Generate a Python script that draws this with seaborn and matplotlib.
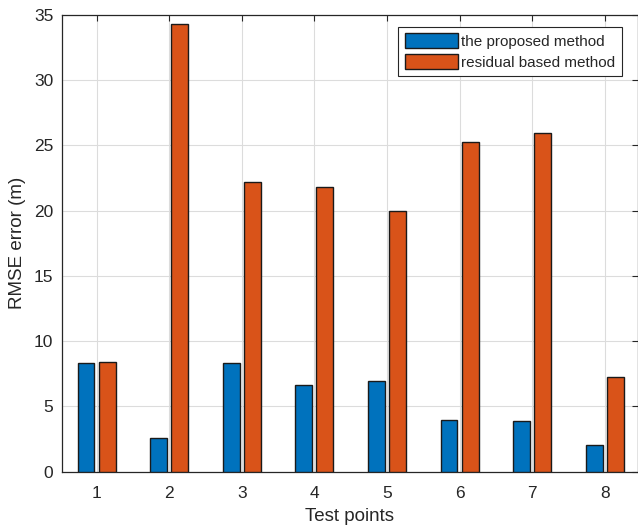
import numpy as np
import pandas as pd
import seaborn as sns
import matplotlib.pyplot as plt

# values
test_points = ['1', '2', '3', '4', '5', '6', '7', '8']
proposed = [8.32, 2.58, 8.3, 6.66, 6.91, 3.93, 3.85, 2.04]
residual = [8.4, 34.3, 22.2, 21.8, 19.93, 25.27, 25.93, 7.25]
methods = ['the proposed method', 'residual based method']
colors = ['#0072BD', '#D95319']

df = pd.DataFrame({
    'point': test_points * 2,
    'rmse': proposed + residual,
    'method': [methods[0]] * len(proposed) + [methods[1]] * len(residual),
})

sns.set_style('white')
plt.rcParams['font.family'] = ['Liberation Sans', 'DejaVu Sans']

fig = plt.figure(figsize=(6.38, 5.28), dpi=100)
ax = fig.add_axes([61.7 / 638, 1 - 471.7 / 528, (637.5 - 61.7) / 638, (471.7 - 14.7) / 528])

sns.barplot(data=df, x='point', y='rmse', hue='method', palette=colors,
            width=0.58, gap=0.2, edgecolor='#1a1a1a', linewidth=1.0,
            saturation=1, ax=ax, zorder=3)

ax.set_xlim(-0.48, 7.45)
ax.set_ylim(0, 35)
ax.set_yticks(np.arange(0, 36, 5))
ax.grid(True, color='#dcdcdc', linewidth=0.8)
ax.set_axisbelow(True)

for s in ax.spines.values():
    s.set_color('#262626')
    s.set_linewidth(0.9)
ax.tick_params(direction='in', length=4, width=0.8, colors='#262626',
               top=True, right=True, labelsize=12.5)
ax.tick_params(axis='x', pad=10)
ax.tick_params(axis='y', pad=6)
for lab in ax.get_xticklabels() + ax.get_yticklabels():
    lab.set_color('#262626')

ax.set_xlabel('Test points', fontsize=13.5, color='#262626', labelpad=5)
ax.set_ylabel('RMSE error (m)', fontsize=13.5, color='#262626', labelpad=6)

ax.legend(loc='upper right', bbox_to_anchor=(0.973, 0.973), fontsize=11,
          frameon=True, fancybox=False, edgecolor='#262626', framealpha=1,
          handlelength=3.45, handleheight=1.1, handletextpad=0.25,
          labelspacing=0.33, borderpad=0.42, borderaxespad=0)
ax.get_legend().get_frame().set_linewidth(0.8)

fig.savefig('out.png', dpi=100)
